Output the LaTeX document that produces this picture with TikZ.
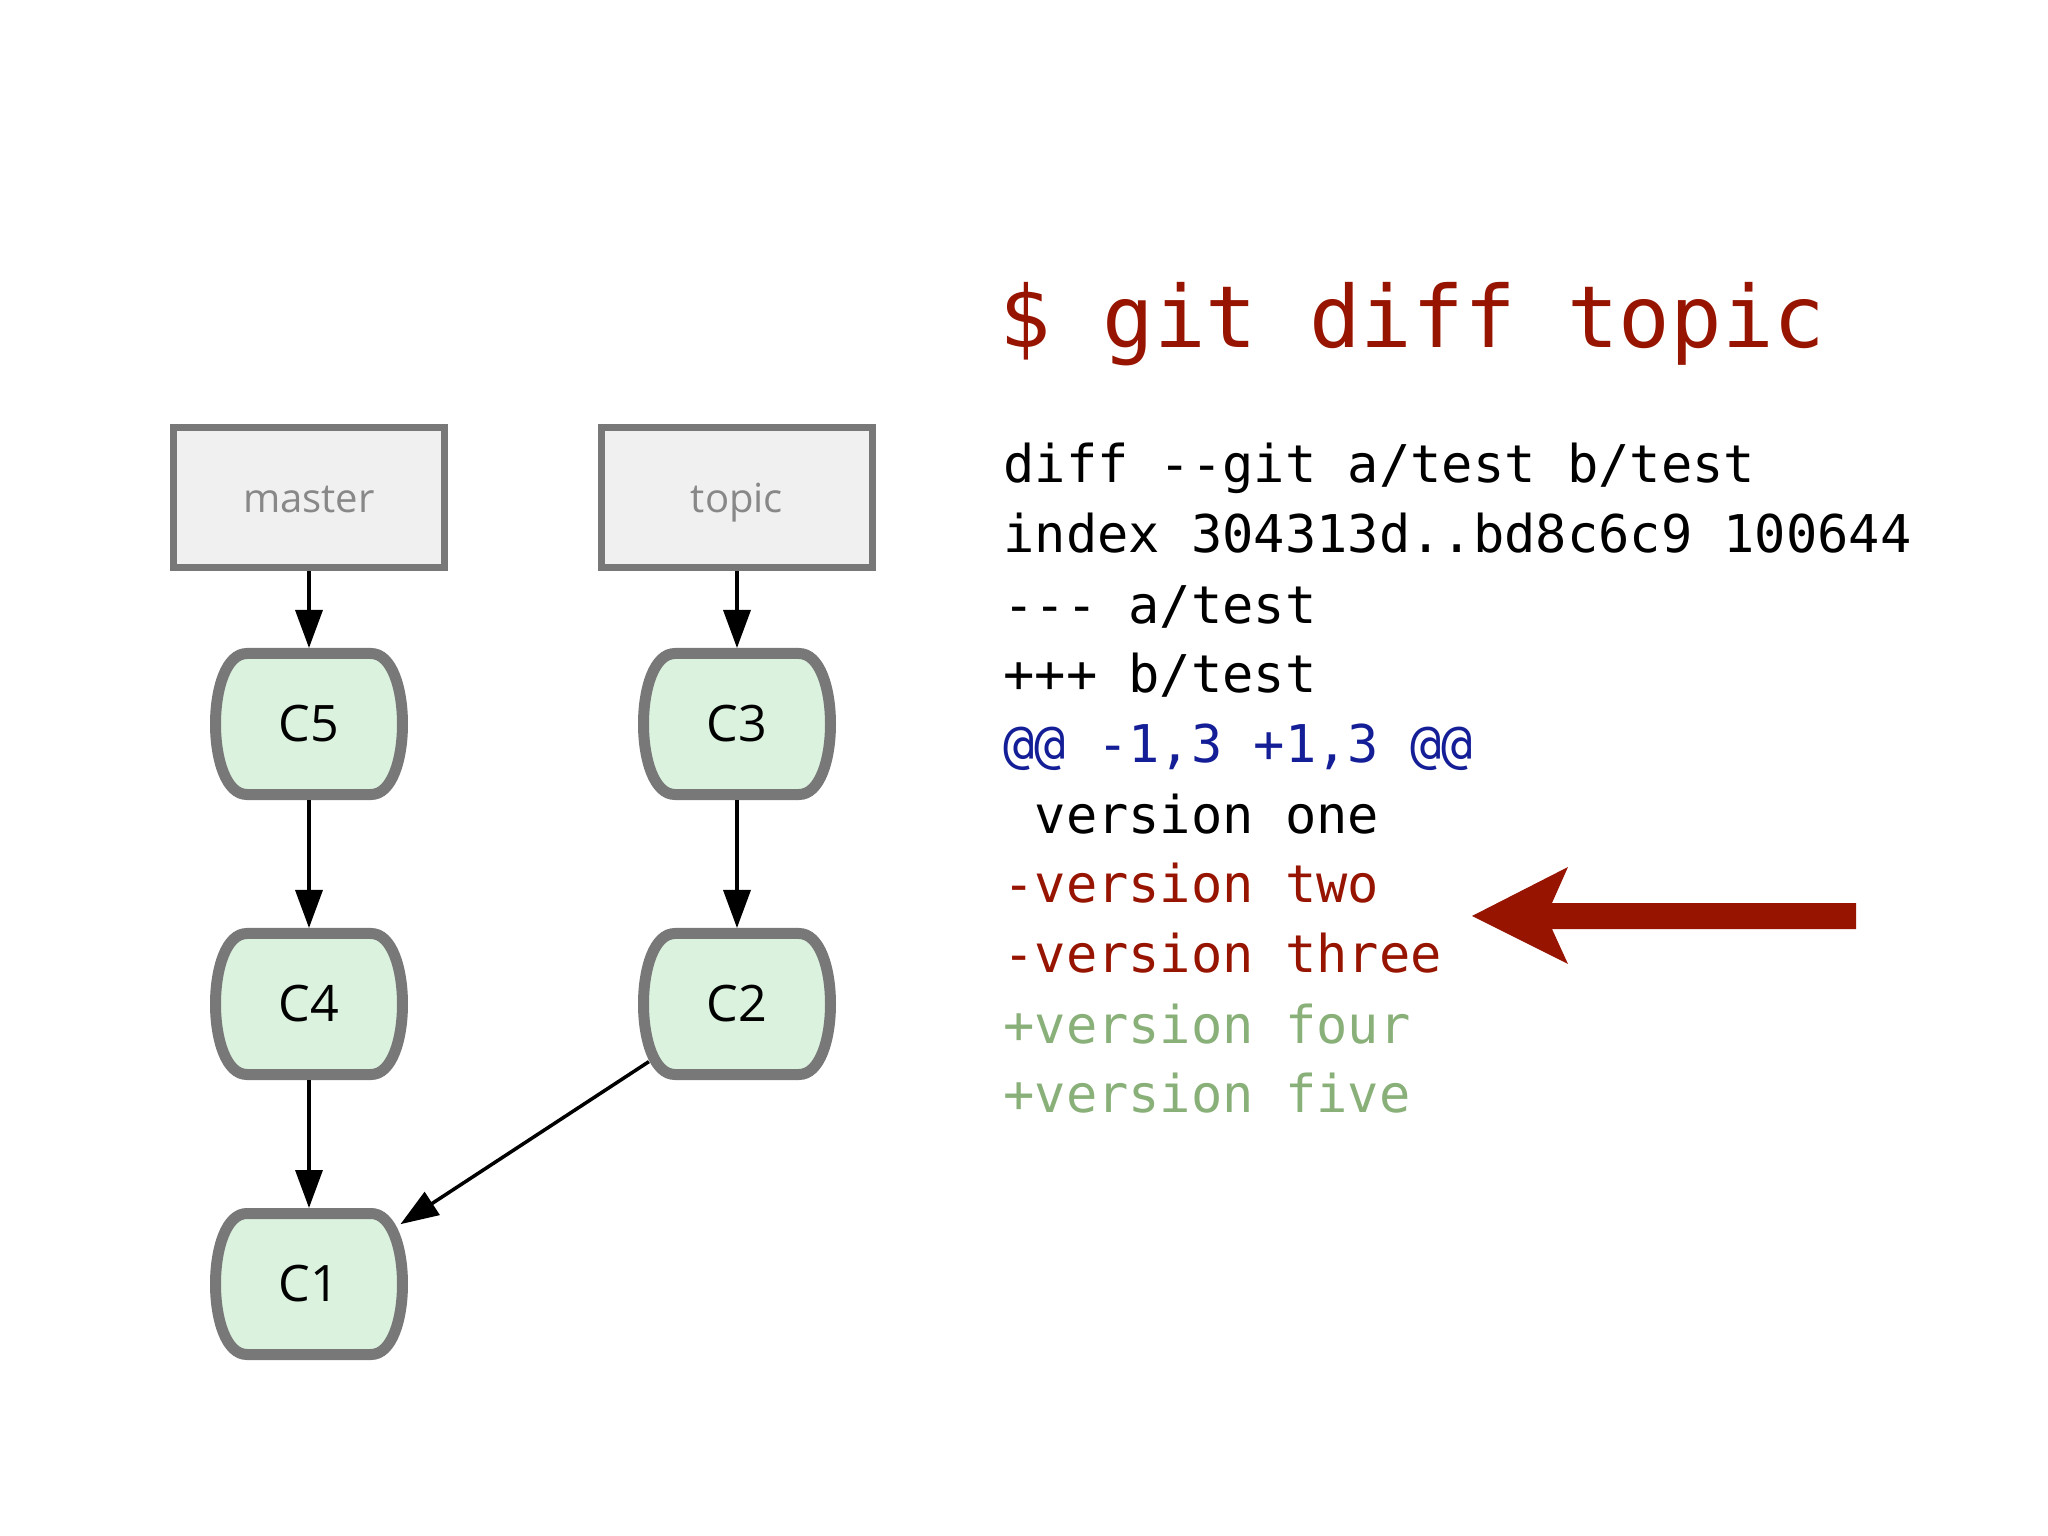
\documentclass[tikz,border=0pt]{standalone}
\usepackage{xcolor}
\usepackage{fontspec}
\setmonofont{DejaVu Sans Mono}
\newfontfamily\labelfont{Open Sans}
\usepackage{tikz}
\usetikzlibrary{positioning,arrows.meta}
\definecolor{GitRed}{RGB}{150,20,0}
\definecolor{GitBlue}{RGB}{20,30,150}
\definecolor{GitGreen}{RGB}{136,176,120}
\definecolor{CommitFill}{RGB}{219,242,222}
\definecolor{BorderGray}{RGB}{120,120,120}
\definecolor{BranchFill}{RGB}{240,240,240}
\definecolor{BranchText}{RGB}{136,136,136}

\begin{document}
\begin{tikzpicture}[
    branch/.style={draw=BorderGray, line width=0.07cm, fill=BranchFill, minimum width=2.71cm, minimum height=1.40cm, text=BranchText, text height=0.8em, text depth=0pt, font=\labelfont\fontsize{11.4}{13}\selectfont},
    commit/.style={minimum width=1.98cm, minimum height=1.52cm, inner sep=0pt, outer sep=0pt, font=\labelfont\fontsize{14.3}{16}\selectfont},
    arr/.style={line width=1pt, -{Triangle[length=0.38cm,width=0.27cm]}},
    diffline/.style={anchor=base west, font=\ttfamily\fontsize{14.8}{17}\selectfont}
]
    \fill[white] (0,0) rectangle (20.48,-15.36);
    \useasboundingbox (0,0) rectangle (20.48,-15.36);

    % branches
    \node[branch] (master) at (3.09,-4.98) {master};
    \node[branch] (topic) at (7.37,-4.98) {topic};

    % commits
    \foreach \name/\x/\y in {C5/3.09/-7.24, C4/3.09/-10.04, C1/3.09/-12.84, C3/7.37/-7.24, C2/7.37/-10.04} {
        \draw[draw=BorderGray, line width=0.11cm, fill=CommitFill, shift={(\x,\y)}]
            (-0.62,0.705) -- (0.62,0.705) .. controls (1.04,0.705) and (1.04,-0.705) .. (0.62,-0.705)
            -- (-0.62,-0.705) .. controls (-1.04,-0.705) and (-1.04,0.705) .. cycle;
        \node[commit] (\name) at (\x,\y) {\name};
    }

    \draw[arr] (master) -- (C5);
    \draw[arr] (C5) -- (C4);
    \draw[arr] (C4) -- (C1);
    \draw[arr] (topic) -- (C3);
    \draw[arr] (C3) -- (C2);
    \draw[arr, shorten <=-0.13cm, shorten >=-0.09cm] (C2) -- (C1);

    % diff output
    \node[anchor=base west, text=GitRed, font=\ttfamily\fontsize{24.4}{29}\selectfont] (cmd) at (9.87,-3.48) {\$ git diff topic};
    \foreach \txt/\col [count=\i] in {{diff --git a/test b/test}/black, {index 304313d..bd8c6c9 100644}/black, {--- a/test}/black, {+++ b/test}/black, {@@ -1,3 +1,3 @@}/GitBlue, {\ version one}/black, {-version two}/GitRed, {-version three}/GitRed, {+version four}/GitGreen, {+version five}/GitGreen} {
        \node[diffline, text=\col] (line\i) at (9.91, -4.13-0.70*\i) {\txt};
    }

    \fill[GitRed] (14.72,-9.16) -- (15.68,-8.67) -- (15.52,-9.03) -- (18.56,-9.03) -- (18.56,-9.29) -- (15.52,-9.29) -- (15.68,-9.64) -- cycle;
\end{tikzpicture}
\end{document}
